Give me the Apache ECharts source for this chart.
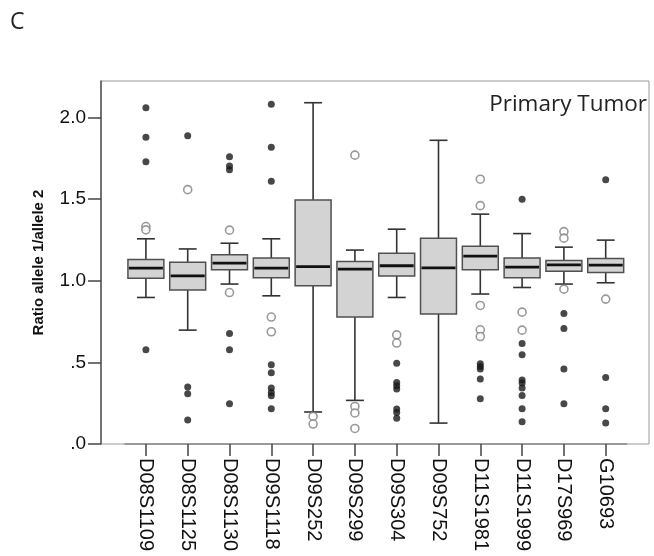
<!DOCTYPE html>
<html><head><meta charset="utf-8">
<script src="https://cdn.jsdelivr.net/npm/echarts@6/dist/echarts.min.js"></script>
<style>html,body{margin:0;padding:0;background:#fff}#c{width:654px;height:556px}</style>
</head><body><div id="c"></div>
<script>
const categories = ['D08S1109','D08S1125','D08S1130','D09S1118','D09S252','D09S299','D09S304','D09S752','D11S1981','D11S1999','D17S969','G10693'];
const whiskerLow  = [0.897,0.697,0.979,0.907,0.196,0.267,0.897,0.128,0.918,0.958,0.979,0.987];
const q1          = [1.015,0.942,1.066,1.017,0.968,0.777,1.029,0.795,1.066,1.017,1.058,1.050];
const median      = [1.076,1.029,1.107,1.076,1.086,1.070,1.091,1.078,1.150,1.083,1.097,1.095];
const q3          = [1.130,1.113,1.158,1.138,1.494,1.117,1.168,1.260,1.211,1.138,1.123,1.135];
const whiskerHigh = [1.256,1.194,1.229,1.256,2.089,1.187,1.315,1.859,1.407,1.288,1.205,1.248];
const mildOutliers = [
  [1.331,1.311],
  [1.557],
  [1.309,0.927],
  [0.777,0.687],
  [0.169,0.122],
  [1.768,0.230,0.190,0.095],
  [0.668,0.618],
  [],
  [1.621,1.459,0.848,0.699,0.658],
  [0.807,0.697],
  [1.300,1.260,0.948],
  [0.887]
];
const extremeOutliers = [
  [2.059,1.878,1.728,0.577],
  [1.887,0.349,0.308,0.147],
  [1.759,1.702,1.678,0.676,0.577,0.246],
  [2.080,1.817,1.609,0.485,0.436,0.343,0.316,0.295,0.216],
  [],
  [],
  [0.495,0.377,0.357,0.336,0.214,0.193,0.157],
  [],
  [0.491,0.475,0.459,0.398,0.277],
  [1.498,0.615,0.546,0.391,0.373,0.343,0.297,0.216,0.136],
  [0.799,0.707,0.459,0.246],
  [1.617,0.407,0.216,0.128]
];
const yTicks = [0, 0.5, 1, 1.5, 2];
const yMin = 0, yMax = 2.222;

const boxData = categories.map((c, i) => [i, whiskerLow[i], q1[i], median[i], q3[i], whiskerHigh[i]]);
const mildData = [];
mildOutliers.forEach((arr, i) => arr.forEach(v => mildData.push([i, v])));
const extremeData = [];
extremeOutliers.forEach((arr, i) => arr.forEach(v => extremeData.push([i, v])));

const FONT = "'Liberation Sans', Arial, sans-serif";
const chart = echarts.init(document.getElementById('c'), null, {renderer: 'canvas'});
chart.setOption({
  animation: false,
  backgroundColor: '#fff',
  title: [
    {text: 'C', left: 10, top: 11, padding: 0,
     textStyle: {fontFamily: "'Open Sans', sans-serif", fontSize: 23, fontWeight: 'normal', color: '#222'}},
    {text: 'Primary Tumor', right: 7, top: 93, padding: 0,
     textStyle: {fontFamily: "'Open Sans', sans-serif", fontSize: 22.5, fontWeight: 'normal', color: '#222'}}
  ],
  grid: [
    {left: 101, right: 5, top: 81, bottom: 112, show: true, borderColor: '#999', borderWidth: 1, backgroundColor: 'transparent'},
    {left: 125, right: 27.4, top: 81, bottom: 112}
  ],
  xAxis: [
    {gridIndex: 0, type: 'value', min: 0, max: 1, show: false},
    {gridIndex: 1, type: 'category', data: categories, boundaryGap: true,
     axisLine: {show: true, lineStyle: {color: '#888', width: 1.5}},
     axisTick: {show: true, alignWithLabel: true, length: 12, lineStyle: {color: '#444', width: 1.5}},
     axisLabel: {rotate: -90, margin: 14, fontFamily: FONT, fontSize: 20, color: '#111', interval: 0}}
  ],
  yAxis: [
    {gridIndex: 0, type: 'value', min: yMin, max: yMax,
     name: 'Ratio allele 1/allele 2', nameLocation: 'middle', nameRotate: 90, nameGap: 55,
     nameTextStyle: {fontFamily: FONT, fontSize: 15, fontWeight: 'bold', color: '#111'},
     splitLine: {show: false},
     axisLine: {show: true, lineStyle: {color: '#555', width: 1.5}},
     axisTick: {show: true, length: 13, customValues: yTicks, lineStyle: {color: '#444', width: 1.5}},
     axisLabel: {margin: 15, customValues: yTicks, fontFamily: FONT, fontSize: 19, color: '#111',
       formatter: v => { let s = Number(v).toFixed(1); if (s.startsWith('0')) s = s.slice(1); return s; }}},
    {gridIndex: 1, type: 'value', min: yMin, max: yMax, show: false, splitLine: {show: false}}
  ],
  series: [
    {
      type: 'custom', xAxisIndex: 1, yAxisIndex: 1, data: boxData,
      encode: {x: 0, y: [1, 2, 3, 4, 5]},
      renderItem: function (params, api) {
        const idx = api.value(0);
        const lo = api.coord([idx, api.value(1)]);
        const b1 = api.coord([idx, api.value(2)]);
        const md = api.coord([idx, api.value(3)]);
        const b3 = api.coord([idx, api.value(4)]);
        const hi = api.coord([idx, api.value(5)]);
        const band = api.size([1, 0])[0];
        const w = band * 0.86, cw = w / 2;
        const x = lo[0];
        const ls = {stroke: '#333', lineWidth: 1.6};
        return {type: 'group', children: [
          {type: 'line', shape: {x1: x, y1: hi[1], x2: x, y2: b3[1]}, style: ls},
          {type: 'line', shape: {x1: x, y1: b1[1], x2: x, y2: lo[1]}, style: ls},
          {type: 'line', shape: {x1: x - cw / 2, y1: hi[1], x2: x + cw / 2, y2: hi[1]}, style: ls},
          {type: 'line', shape: {x1: x - cw / 2, y1: lo[1], x2: x + cw / 2, y2: lo[1]}, style: ls},
          {type: 'rect', shape: {x: x - w / 2, y: b3[1], width: w, height: b1[1] - b3[1]},
           style: {fill: '#d3d3d3', stroke: '#505050', lineWidth: 1.5}},
          {type: 'line', shape: {x1: x - w / 2 + 1, y1: md[1], x2: x + w / 2 - 1, y2: md[1]},
           style: {stroke: '#111', lineWidth: 2.8}}
        ]};
      }
    },
    {
      type: 'scatter', xAxisIndex: 1, yAxisIndex: 1, data: mildData,
      symbol: 'circle', symbolSize: 8,
      itemStyle: {color: '#fff', borderColor: '#808080', borderWidth: 1.6}
    },
    {
      type: 'scatter', xAxisIndex: 1, yAxisIndex: 1, data: extremeData,
      symbol: 'circle', symbolSize: 7,
      itemStyle: {color: '#1a1a1a', borderColor: '#1a1a1a', borderWidth: 0}
    }
  ]
});
</script>
</body></html>
